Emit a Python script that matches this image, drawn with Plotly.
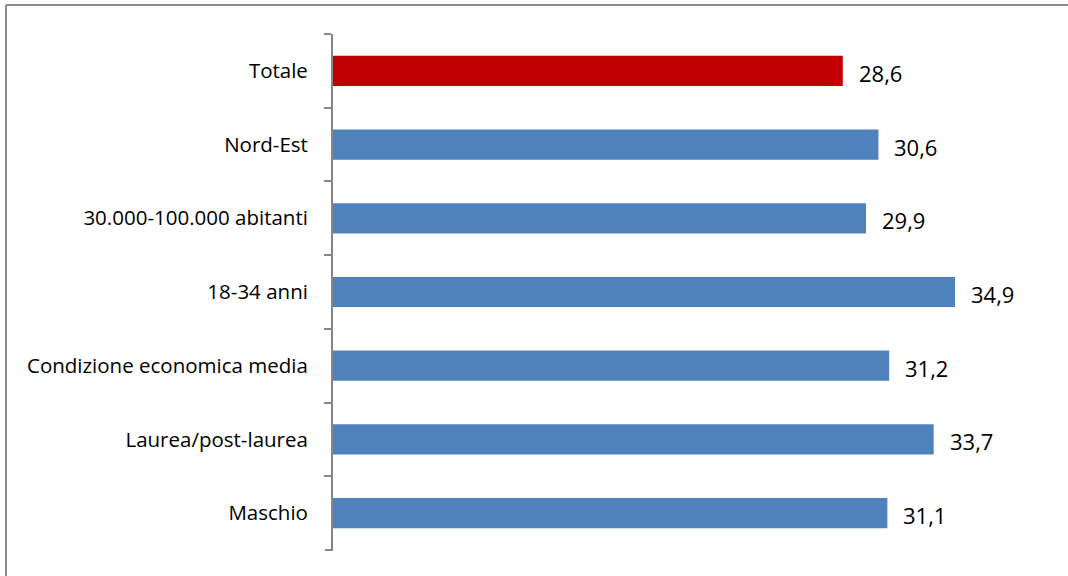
import plotly.graph_objects as go

categories = ["Totale", "Nord-Est", "30.000-100.000 abitanti", "18-34 anni",
              "Condizione economica media", "Laurea/post-laurea", "Maschio"]
values = [28.6, 30.6, 29.9, 34.9, 31.2, 33.7, 31.1]
bar_colors = ["#C00000", "#4F81BD", "#4F81BD", "#4F81BD", "#4F81BD", "#4F81BD", "#4F81BD"]
value_labels = [f"{v:.1f}".replace(".", ",") for v in values]

font_name = "Open Sans, Liberation Sans, sans-serif"
axis_grey = "#868686"

fig = go.Figure()

fig.add_trace(go.Bar(
    y=categories,
    x=values,
    orientation="h",
    marker=dict(color=bar_colors, line=dict(width=0)),
    width=0.41,
    hoverinfo="skip"
))

# data labels, placed a bit to the right of each bar end
annotations = []
for cat, val, lab in zip(categories, values, value_labels):
    annotations.append(dict(
        x=val, y=cat, xref="x", yref="y",
        text=lab, showarrow=False,
        xanchor="left", yanchor="middle",
        xshift=14, yshift=-2,
        font=dict(size=22, color="#000000", family=font_name)
    ))

fig.update_layout(
    width=1068,
    height=576,
    margin=dict(l=333, r=22, t=34, b=26),
    paper_bgcolor="white",
    plot_bgcolor="white",
    showlegend=False,
    font=dict(family=font_name, color="#000000"),
    xaxis=dict(
        range=[0, 40],
        visible=False,
        showgrid=False,
        zeroline=False
    ),
    yaxis=dict(
        type="category",
        autorange="reversed",
        showline=True,
        linecolor=axis_grey,
        linewidth=2,
        ticks="outside",
        tickson="boundaries",
        ticklen=7,
        tickwidth=2,
        tickcolor=axis_grey,
        tickfont=dict(size=20.5, color="#000000", family=font_name),
        ticklabelstandoff=19,
        showgrid=False,
        zeroline=False
    ),
    annotations=annotations,
    shapes=[
        # outer chart frame (top and left edges)
        dict(type="line", xref="paper", yref="paper",
             x0=-327 / 713, x1=1.1, y0=1 + 29 / 516, y1=1 + 29 / 516,
             line=dict(color="#8c8c8c", width=2)),
        dict(type="line", xref="paper", yref="paper",
             x0=-327 / 713, x1=-327 / 713, y0=-0.1, y1=1 + 29 / 516,
             line=dict(color="#8c8c8c", width=2)),
        # closing tick at the bottom of the category axis
        dict(type="line", xref="paper", yref="paper",
             x0=-8 / 713, x1=0, y0=0, y1=0,
             line=dict(color=axis_grey, width=2)),
    ]
)

fig.write_html("out.html", config={"displayModeBar": False},
               post_script="document.body.style.margin='0';")
